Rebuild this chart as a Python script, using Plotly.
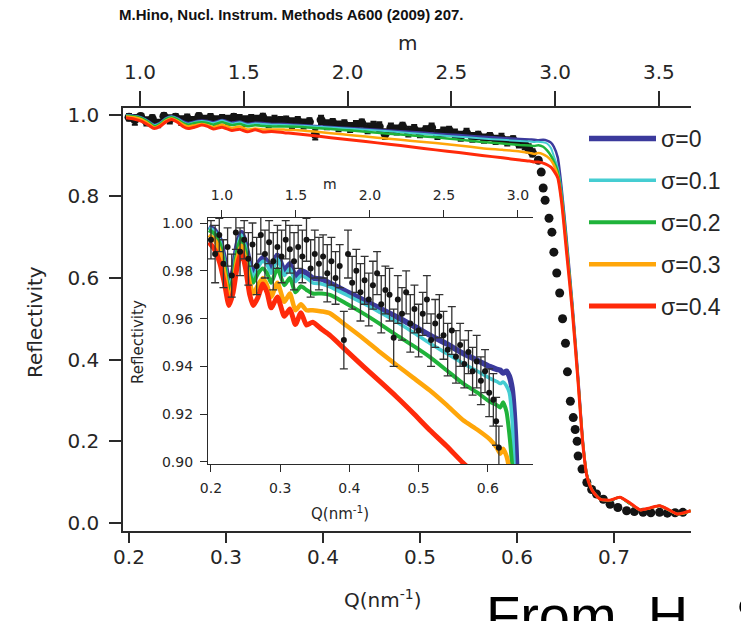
import plotly.graph_objects as go

W, H = 741, 621

# ---- simulated reflectivity curves for interface roughness sigma ----
q_model = [0.197, 0.205, 0.213, 0.220, 0.226, 0.232, 0.238, 0.244, 0.250, 0.256,
           0.261, 0.268, 0.275, 0.281, 0.287, 0.296, 0.306, 0.314, 0.322, 0.330,
           0.338, 0.347, 0.360, 0.372, 0.396, 0.420, 0.444, 0.468, 0.492, 0.516,
           0.540, 0.564, 0.585, 0.603, 0.613, 0.618, 0.622, 0.627, 0.631, 0.635,
           0.638, 0.642, 0.646, 0.651, 0.657, 0.663, 0.668, 0.672, 0.678, 0.686,
           0.696, 0.706, 0.716, 0.727, 0.737, 0.747, 0.756, 0.765, 0.772, 0.779]

r_sigma_00 = [0.9985, 0.997, 0.993, 0.984, 0.975, 0.980, 0.991, 0.996, 0.991, 0.983,
              0.979, 0.983, 0.9855, 0.984, 0.981, 0.9865, 0.980, 0.983, 0.9775, 0.980,
              0.979, 0.977, 0.9765, 0.9748, 0.9713, 0.9678, 0.9643, 0.9608, 0.957, 0.9531,
              0.9495, 0.9455, 0.9425, 0.9399, 0.9388, 0.9384, 0.9372, 0.938, 0.936, 0.931,
              0.921, 0.895, 0.820, 0.700, 0.540, 0.360, 0.200, 0.120, 0.080, 0.058,
              0.055, 0.063, 0.048, 0.032, 0.036, 0.042, 0.032, 0.022, 0.024, 0.030]

r_sigma_01 = [0.998, 0.9965, 0.9925, 0.983, 0.9735, 0.979, 0.990, 0.995, 0.990, 0.9815,
              0.9775, 0.9815, 0.984, 0.9825, 0.979, 0.985, 0.978, 0.981, 0.9755, 0.978,
              0.977, 0.975, 0.9745, 0.9733, 0.9699, 0.9664, 0.9626, 0.9587, 0.9543, 0.9497,
              0.9455, 0.9413, 0.938, 0.935, 0.9337, 0.9328, 0.9335, 0.9318, 0.929, 0.918,
              0.898, 0.870, 0.810, 0.690, 0.535, 0.355, 0.198, 0.119, 0.079, 0.058,
              0.055, 0.063, 0.048, 0.032, 0.036, 0.042, 0.032, 0.022, 0.024, 0.030]

r_sigma_02 = [0.997, 0.9955, 0.991, 0.9815, 0.971, 0.977, 0.9885, 0.9935, 0.988, 0.979,
              0.975, 0.979, 0.981, 0.979, 0.975, 0.981, 0.974, 0.977, 0.971, 0.9735,
              0.972, 0.9705, 0.9705, 0.9699, 0.9662, 0.9622, 0.9578, 0.9531, 0.9487, 0.944,
              0.9385, 0.9329, 0.929, 0.9252, 0.9238, 0.9228, 0.925, 0.921, 0.912, 0.899,
              0.885, 0.860, 0.800, 0.685, 0.530, 0.350, 0.195, 0.118, 0.079, 0.058,
              0.055, 0.063, 0.048, 0.032, 0.036, 0.042, 0.032, 0.022, 0.024, 0.030]

r_sigma_03 = [0.995, 0.993, 0.988, 0.978, 0.968, 0.974, 0.985, 0.9905, 0.9845, 0.975,
              0.9705, 0.974, 0.977, 0.974, 0.969, 0.975, 0.967, 0.9705, 0.9635, 0.966,
              0.9635, 0.9635, 0.963, 0.9622, 0.957, 0.9517, 0.946, 0.9406, 0.9353, 0.930,
              0.924, 0.9176, 0.9135, 0.9095, 0.906, 0.9035, 0.9055, 0.9025, 0.897, 0.888,
              0.876, 0.850, 0.790, 0.675, 0.525, 0.345, 0.193, 0.117, 0.078, 0.058,
              0.056, 0.063, 0.049, 0.032, 0.036, 0.042, 0.033, 0.022, 0.024, 0.030]

r_sigma_04 = [0.992, 0.989, 0.983, 0.974, 0.9655, 0.971, 0.982, 0.988, 0.981, 0.970,
              0.9655, 0.969, 0.9745, 0.971, 0.9645, 0.969, 0.961, 0.964, 0.9575, 0.9625,
              0.9573, 0.9585, 0.9555, 0.953, 0.9465, 0.940, 0.9337, 0.9273, 0.9205, 0.9134,
              0.9068, 0.8997, 0.894, 0.8885, 0.886, 0.8835, 0.8835, 0.881, 0.877, 0.871,
              0.862, 0.845, 0.785, 0.665, 0.520, 0.345, 0.190, 0.115, 0.078, 0.058,
              0.056, 0.063, 0.050, 0.032, 0.037, 0.042, 0.033, 0.022, 0.025, 0.030]

sigma_labels = ["σ=0", "σ=0.1", "σ=0.2", "σ=0.3", "σ=0.4"]
sigma_curves = [r_sigma_00, r_sigma_01, r_sigma_02, r_sigma_03, r_sigma_04]
sigma_colors = ["#3b3a9c", "#45cdd2", "#1fb33a", "#ffa60a", "#ff2a0a"]
main_widths = [2.5, 2.0, 2.5, 2.5, 3.0]
inset_widths = [5.5, 3.5, 4.0, 4.5, 5.0]

# ---- measured reflectivity ----
q_meas = [0.200, 0.206, 0.212, 0.218, 0.224, 0.230, 0.236, 0.242, 0.248, 0.254,
          0.260, 0.266, 0.272, 0.278, 0.284, 0.290, 0.296, 0.302, 0.308, 0.314,
          0.320, 0.326, 0.332, 0.338, 0.344, 0.350, 0.356, 0.362, 0.368, 0.374,
          0.380, 0.386, 0.392, 0.398, 0.404, 0.410, 0.416, 0.422, 0.428, 0.434,
          0.440, 0.446, 0.452, 0.458, 0.464, 0.470, 0.476, 0.482, 0.488, 0.494,
          0.500, 0.506, 0.512, 0.518, 0.524, 0.530, 0.536, 0.542, 0.548, 0.554,
          0.560, 0.566, 0.572, 0.578, 0.584, 0.590, 0.596, 0.602, 0.608, 0.612,
          0.616,
          0.622, 0.625, 0.627, 0.629, 0.633, 0.636, 0.638, 0.641, 0.644, 0.647,
          0.650, 0.652, 0.655, 0.658, 0.660, 0.662, 0.663, 0.667, 0.672, 0.677,
          0.682, 0.689, 0.696, 0.704, 0.713, 0.721, 0.730, 0.738, 0.747, 0.755,
          0.763, 0.771]

r_meas = [0.993, 0.987, 0.995, 0.983, 0.990, 0.978, 0.996, 0.988, 0.993, 0.985,
          0.991, 0.982, 0.995, 0.987, 0.992, 0.984, 0.990, 0.986, 0.993, 0.989,
          0.984, 0.990, 0.986, 0.993, 0.981, 0.987, 0.983, 0.986, 0.979, 0.984,
          0.977, 0.982, 0.951, 0.987, 0.975, 0.980, 0.971, 0.976, 0.968, 0.974,
          0.979, 0.966, 0.972, 0.970, 0.952, 0.968, 0.962, 0.971, 0.958, 0.964,
          0.955, 0.962, 0.968, 0.951, 0.958, 0.961, 0.953, 0.947, 0.955, 0.944,
          0.949, 0.941, 0.946, 0.938, 0.942, 0.934, 0.938, 0.929, 0.926, 0.917,
          0.906,
          0.888, 0.859, 0.820, 0.790, 0.746, 0.712, 0.663, 0.612, 0.563, 0.500,
          0.440, 0.370, 0.298, 0.258, 0.229, 0.200, 0.164, 0.132, 0.099, 0.082,
          0.071, 0.058, 0.046, 0.038, 0.030, 0.028, 0.026, 0.025, 0.026, 0.024,
          0.025, 0.026]

dr_meas = [0.008, 0.012, 0.007, 0.010, 0.008, 0.009, 0.007, 0.010, 0.008, 0.011,
           0.009, 0.012, 0.008, 0.010, 0.009, 0.012, 0.009, 0.011, 0.008, 0.010,
           0.012, 0.009, 0.011, 0.009, 0.012, 0.010, 0.011, 0.009, 0.012, 0.010,
           0.011, 0.009, 0.012, 0.010, 0.011, 0.009, 0.012, 0.010, 0.011, 0.010,
           0.009, 0.012, 0.010, 0.011, 0.012, 0.010, 0.011, 0.009, 0.012, 0.010,
           0.011, 0.009, 0.010, 0.011, 0.010, 0.009, 0.010, 0.011, 0.010, 0.011,
           0.009, 0.010, 0.009, 0.010, 0.011, 0.010, 0.009, 0.010, 0.011, 0.010,
           0.009,
           0.005, 0.005, 0.005, 0.005, 0.005, 0.005, 0.005, 0.005, 0.005, 0.005,
           0.005, 0.005, 0.005, 0.005, 0.005, 0.005, 0.005, 0.005, 0.005, 0.005,
           0.005, 0.005, 0.005, 0.005, 0.005, 0.005, 0.005, 0.005, 0.005, 0.005,
           0.005, 0.005]

# ---- tick labels ----
main_q_ticks = [0.2, 0.3, 0.4, 0.5, 0.6, 0.7]
main_r_ticks = [0.0, 0.2, 0.4, 0.6, 0.8, 1.0]
main_m_ticks = [1.0, 1.5, 2.0, 2.5, 3.0, 3.5]
inset_q_ticks = [0.2, 0.3, 0.4, 0.5, 0.6]
inset_r_ticks = [0.90, 0.92, 0.94, 0.96, 0.98, 1.00]
inset_m_ticks = [1.0, 1.5, 2.0, 2.5, 3.0]

TXT = "#262626"
AX = "#2a2a2a"
TICK_FONT = "DejaVu Sans"


def px_x(p):
    return p / W


def px_y(p):
    return 1 - p / H


fig = go.Figure()

# main panel: measured points first, curves over them
fig.add_trace(go.Scatter(
    x=q_meas, y=r_meas, mode="markers", xaxis="x", yaxis="y",
    marker=dict(color="#141414", size=9),
    error_y=dict(type="data", array=dr_meas, color="#141414", thickness=2, width=3),
    showlegend=False, hoverinfo="skip"))
for lab, r, col, lw in zip(sigma_labels, sigma_curves, sigma_colors, main_widths):
    fig.add_trace(go.Scatter(
        x=q_model, y=r, mode="lines", xaxis="x", yaxis="y",
        line=dict(color=col, width=lw, shape="spline", smoothing=0.6),
        showlegend=False, hoverinfo="skip"))
# top m axis of main panel
fig.add_trace(go.Scatter(x=[], y=[], xaxis="x2", yaxis="y", showlegend=False))

# inset: curves, then measured points with error bars
for lab, r, col, lw in zip(sigma_labels, sigma_curves, sigma_colors, inset_widths):
    fig.add_trace(go.Scatter(
        x=q_model, y=r, mode="lines", xaxis="x3", yaxis="y3", name=lab,
        legendgroup=lab, line=dict(color=col, width=lw, shape="spline", smoothing=0.6),
        hoverinfo="skip"))
fig.add_trace(go.Scatter(
    x=q_meas, y=r_meas, mode="markers", xaxis="x3", yaxis="y3",
    marker=dict(color="#141414", size=6),
    error_y=dict(type="data", array=dr_meas, color="#333333", thickness=1.3, width=4),
    showlegend=False, hoverinfo="skip"))
fig.add_trace(go.Scatter(x=[], y=[], xaxis="x4", yaxis="y3", showlegend=False))

axis_common = dict(showgrid=False, zeroline=False, showline=True, linecolor=AX,
                   ticks="outside", tickcolor=AX, tickmode="array", automargin=False)

main_font = dict(family=TICK_FONT, size=20, color=TXT)
inset_font = dict(family=TICK_FONT, size=14, color=TXT)

fig.update_layout(
    width=W, height=H, autosize=False,
    margin=dict(l=0, r=0, t=0, b=0, pad=0),
    paper_bgcolor="white", plot_bgcolor="rgba(0,0,0,0)",
    xaxis=dict(axis_common, domain=[px_x(123), px_x(691)], range=[0.1938, 0.7794],
               anchor="y", tickvals=main_q_ticks, tickformat=".1f", ticklen=10,
               tickwidth=1.5, linewidth=1.5, tickfont=main_font, ticklabelstandoff=-3),
    yaxis=dict(axis_common, domain=[px_y(531), px_y(108)], range=[-0.0196, 1.0159],
               anchor="x", tickvals=main_r_ticks, tickformat=".1f", ticklen=12,
               tickwidth=1.5, linewidth=1.5, tickfont=main_font, ticklabelstandoff=6),
    xaxis2=dict(axis_common, overlaying="x", side="top", anchor="y",
                range=[0.918, 3.655], tickvals=main_m_ticks, tickformat=".1f",
                ticklen=15, tickwidth=1.5, linewidth=1.5, tickfont=main_font,
                ticklabelstandoff=4),
    xaxis3=dict(axis_common, domain=[px_x(208), px_x(533)], range=[0.1957, 0.6653],
                anchor="y3", tickvals=inset_q_ticks, tickformat=".1f", ticklen=7,
                tickwidth=1.2, linewidth=1.2, tickfont=inset_font, ticklabelstandoff=4),
    yaxis3=dict(axis_common, domain=[px_y(464), px_y(218)], range=[0.89916, 1.0021],
                anchor="x3", tickvals=inset_r_ticks, tickformat=".2f", ticklen=7,
                tickwidth=1.2, linewidth=1.2, tickfont=inset_font, ticklabelstandoff=4),
    xaxis4=dict(axis_common, overlaying="x3", side="top", anchor="y3",
                range=[0.9055, 3.1015], tickvals=inset_m_ticks, tickformat=".1f",
                ticklen=7, tickwidth=1.2, linewidth=1.2, tickfont=inset_font,
                ticklabelstandoff=4),
    legend=dict(x=px_x(584), y=px_y(117), xanchor="left", yanchor="top",
                bgcolor="rgba(0,0,0,0)", itemwidth=67, tracegroupgap=9,
                font=dict(family="Liberation Sans", size=23, color=TXT),
                itemclick=False, itemdoubleclick=False),
    showlegend=True,
)

annotations = [
    dict(text="<b>M.Hino, Nucl. Instrum. Methods A600 (2009) 207.</b>",
         x=px_x(291), y=px_y(15), font=dict(family="Liberation Sans", size=15, color="#111")),
    dict(text="m", x=px_x(407), y=px_y(43), font=main_font),
    dict(text="Reflectivity", x=px_x(35), y=px_y(322), textangle=-90, font=main_font),
    dict(text="Q(nm<sup>-1</sup>)", x=px_x(382), y=px_y(599), font=main_font),
    dict(text="m", x=px_x(330), y=px_y(184), font=inset_font),
    dict(text="Reflectivity", x=px_x(138), y=px_y(342), textangle=-90,
         font=dict(family=TICK_FONT, size=15, color=TXT)),
    dict(text="Q(nm<sup>-1</sup>)", x=px_x(340), y=px_y(513),
         font=dict(family=TICK_FONT, size=15, color=TXT)),
    dict(text="From&nbsp; H.&nbsp; S", x=px_x(484), y=px_y(582), xanchor="left",
         yanchor="top", font=dict(family="Liberation Sans", size=56, color="#000")),
]
for a in annotations:
    a.setdefault("xref", "paper")
    a.setdefault("yref", "paper")
    a.setdefault("showarrow", False)
    a.setdefault("xanchor", "center")
    a.setdefault("yanchor", "middle")
fig.update_layout(annotations=annotations)

fig.write_html("out.html")
